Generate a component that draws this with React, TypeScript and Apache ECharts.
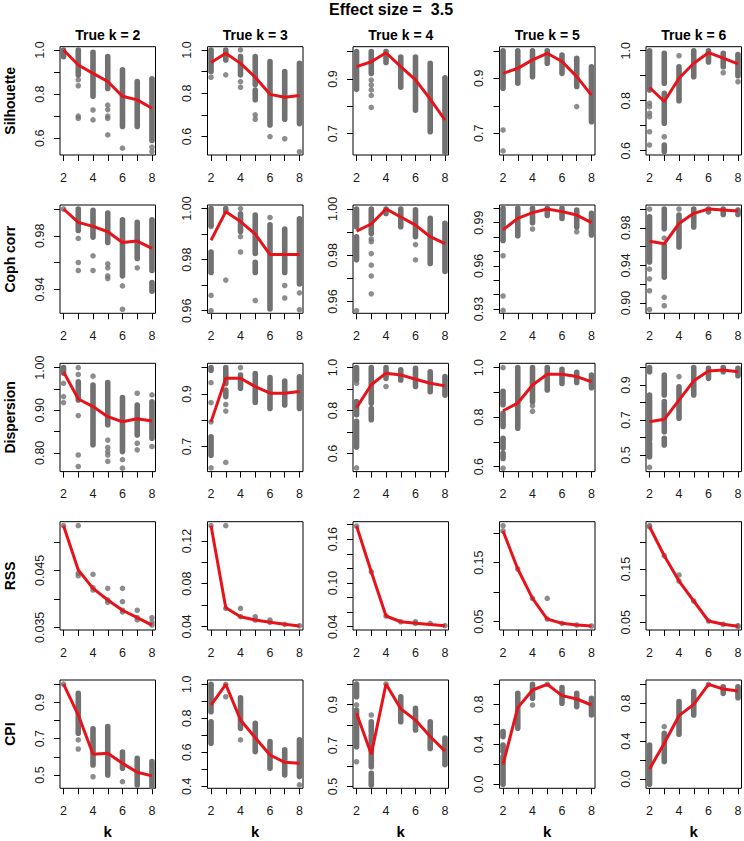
import React, { useEffect, useRef } from "react";
import * as echarts from "echarts";

// ---------------- data ----------------
const kValues = [2, 3, 4, 5, 6, 7, 8];
const trueKTitles = ["True k = 2", "True k = 3", "True k = 4", "True k = 5", "True k = 6"];
const metricNames = ["Silhouette", "Coph corr", "Dispersion", "RSS", "CPI"];
const xTickValues = [2, 3, 4, 5, 6, 7, 8];
const xLabelValues = [2, 4, 6, 8];
const mainTitle = "Effect size =  3.5";
const xAxisTitle = "k";

// Silhouette
const silhouetteRanges = [[0.524, 1.015], [0.515, 1.015], [0.622, 1.018], [0.621, 1.015], [0.583, 1.016]];
const silhouetteTicks = [[0.6, 0.7, 0.8, 0.9, 1.0], [0.6, 0.7, 0.8, 0.9, 1.0], [0.7, 0.8, 0.9, 1.0], [0.7, 0.8, 0.9, 1.0], [0.6, 0.7, 0.8, 0.9, 1.0]];
const silhouetteLabels = [["0.6", "0.8", "1.0"], ["0.6", "0.8", "1.0"], ["0.7", "0.9"], ["0.7", "0.9"], ["0.6", "0.8", "1.0"]];
const silhouetteMeans = [
  [1.0, 0.932, 0.894, 0.857, 0.79, 0.774, 0.736],
  [0.942, 0.985, 0.938, 0.874, 0.795, 0.782, 0.79],
  [0.945, 0.963, 0.996, 0.945, 0.897, 0.826, 0.75],
  [0.918, 0.936, 0.967, 0.991, 0.961, 0.906, 0.839],
  [0.853, 0.797, 0.89, 0.95, 0.992, 0.97, 0.947],
];
const silhouetteStrips = [
  [[2, 0.97, 1.0], [3, 0.887, 1.0], [4, 0.79, 0.99], [5, 0.826, 0.97], [6, 0.653, 0.91], [7, 0.653, 0.857], [8, 0.59, 0.87]],
  [[2, 0.9, 1.0], [3, 0.954, 1.0], [4, 0.885, 0.97], [5, 0.84, 0.97], [5, 0.77, 0.815], [6, 0.654, 0.946], [7, 0.68, 0.9], [8, 0.66, 0.938]],
  [[2, 0.862, 1.0], [3, 0.92, 1.0], [4, 0.96, 1.0], [5, 0.87, 0.98], [6, 0.786, 0.98], [7, 0.707, 0.957], [8, 0.63, 0.904]],
  [[2, 0.864, 1.0], [3, 0.882, 1.0], [4, 0.906, 1.0], [5, 0.955, 1.0], [6, 0.918, 0.985], [7, 0.87, 0.973], [8, 0.742, 0.942]],
  [[2, 0.843, 1.0], [3, 0.87, 0.99], [3, 0.71, 0.83], [3, 0.597, 0.623], [4, 0.8, 0.936], [5, 0.896, 1.0], [6, 0.955, 1.0], [7, 0.936, 0.99], [8, 0.9, 0.985]],
];
const silhouetteDots = [
  [[3, 0.865], [3, 0.838], [3, 0.7], [3, 0.69], [4, 0.728], [4, 0.683], [5, 0.75], [5, 0.73], [5, 0.7], [5, 0.69], [5, 0.615], [6, 0.555], [8, 0.56], [8, 0.54]],
  [[2, 0.874], [3, 0.885], [4, 1.0], [4, 0.854], [4, 0.828], [5, 0.7], [5, 0.68], [6, 0.6], [7, 0.59], [8, 0.53]],
  [[3, 0.896], [3, 0.878], [3, 0.86], [3, 0.84], [3, 0.796]],
  [[2, 0.712], [2, 0.636], [7, 0.797]],
  [[2, 0.79], [2, 0.776], [2, 0.75], [2, 0.736], [2, 0.676], [2, 0.623], [3, 0.656], [4, 0.98], [7, 0.912], [8, 0.876]],
];

// Coph corr
const cophRanges = [[0.922, 1.003], [0.959, 1.0014], [0.9549, 1.0017], [0.927, 1.0023], [0.889, 1.0043]];
const cophTicks = [[0.94, 0.96, 0.98, 1.0], [0.96, 0.97, 0.98, 0.99, 1.0], [0.96, 0.97, 0.98, 0.99, 1.0], [0.93, 0.94, 0.95, 0.96, 0.97, 0.98, 0.99, 1.0], [0.9, 0.92, 0.94, 0.96, 0.98, 1.0]];
const cophLabels = [["0.94", "0.98"], ["0.96", "0.98", "1.00"], ["0.96", "0.98", "1.00"], ["0.93", "0.96", "0.99"], ["0.90", "0.94", "0.98"]];
const cophMeans = [
  [1.0, 0.99, 0.987, 0.983, 0.975, 0.976, 0.9705],
  [0.9876, 0.9988, 0.9949, 0.99, 0.982, 0.982, 0.982],
  [0.9904, 0.9935, 1.0, 0.9965, 0.993, 0.988, 0.985],
  [0.985, 0.993, 0.997, 0.9995, 0.9977, 0.9953, 0.99],
  [0.9657, 0.963, 0.9846, 0.9954, 1.0, 0.999, 0.998],
];
const cophStrips = [
  [[3, 0.984, 1.0], [4, 0.979, 0.999], [5, 0.975, 0.997], [6, 0.95, 0.992], [7, 0.963, 0.99], [8, 0.954, 0.992], [8, 0.9385, 0.945]],
  [[2, 0.9935, 1.0], [2, 0.975, 0.983], [3, 0.999, 1.0], [4, 0.991, 0.998], [5, 0.9824, 0.9975], [5, 0.975, 0.979], [6, 0.9607, 0.9936], [7, 0.975, 0.992], [8, 0.9705, 0.996]],
  [[2, 0.9923, 1.0], [2, 0.978, 0.988], [3, 0.9894, 1.0], [4, 0.998, 1.0], [5, 0.9923, 1.0], [6, 0.988, 0.9996], [7, 0.9764, 0.996], [8, 0.973, 0.9938]],
  [[2, 0.9777, 1.0], [3, 0.981, 1.0], [4, 0.99, 1.0], [5, 0.995, 1.0], [6, 0.993, 1.0], [7, 0.987, 0.9988], [8, 0.9814, 0.9965]],
  [[2, 0.9436, 0.9918], [3, 0.979, 1.0], [3, 0.9275, 0.9614], [4, 0.9596, 0.9936], [5, 0.981, 1.0], [6, 0.997, 1.0], [7, 0.9943, 1.0], [8, 0.9943, 0.999]],
];
const cophDots = [
  [[2, 1.0], [3, 0.978], [3, 0.96], [3, 0.954], [4, 0.965], [4, 0.954], [5, 0.959], [5, 0.956], [5, 0.95], [5, 0.948], [6, 0.9425], [6, 0.925], [7, 0.956]],
  [[2, 0.993], [2, 0.966], [2, 0.96], [3, 0.972], [4, 1.0], [4, 0.989], [4, 0.983], [5, 0.964], [6, 0.9965], [7, 0.9699], [7, 0.965], [8, 0.967], [8, 0.9604]],
  [[2, 0.956], [3, 0.987], [3, 0.9858], [3, 0.9807], [3, 0.9757], [3, 0.971], [3, 0.9633], [6, 0.9846], [6, 0.978]],
  [[2, 0.967], [2, 0.939], [2, 0.929], [4, 0.9856], [7, 0.9837]],
  [[2, 1.0], [2, 0.936], [2, 0.9257], [2, 0.913], [2, 0.893], [3, 0.969], [3, 0.906], [3, 0.897], [4, 1.0]],
];

// Dispersion
const dispersionRanges = [[0.756, 1.0102], [0.605, 1.0165], [0.516, 1.02], [0.58, 1.0176], [0.405, 1.024]];
const dispersionTicks = [[0.8, 0.85, 0.9, 0.95, 1.0], [0.7, 0.8, 0.9, 1.0], [0.6, 0.7, 0.8, 0.9, 1.0], [0.6, 0.7, 0.8, 0.9, 1.0], [0.5, 0.6, 0.7, 0.8, 0.9, 1.0]];
const dispersionLabels = [["0.80", "0.90", "1.00"], ["0.7", "0.9"], ["0.6", "0.8", "1.0"], ["0.6", "0.8", "1.0"], ["0.5", "0.7", "0.9"]];
const dispersionMeans = [
  [0.99, 0.9265, 0.9086, 0.885, 0.873, 0.88, 0.875],
  [0.794, 0.9595, 0.9595, 0.928, 0.903, 0.903, 0.909],
  [0.814, 0.92, 0.974, 0.966, 0.946, 0.927, 0.915],
  [0.826, 0.857, 0.93, 0.973, 0.973, 0.964, 0.943],
  [0.69, 0.704, 0.814, 0.924, 0.98, 0.986, 0.976],
];
const dispersionStrips = [
  [[2, 0.987, 1.0], [3, 0.924, 0.967], [4, 0.819, 0.959], [5, 0.866, 0.965], [6, 0.803, 0.93], [7, 0.842, 0.912], [8, 0.834, 0.92]],
  [[2, 0.99, 1.0], [2, 0.667, 0.737], [3, 0.94, 1.0], [3, 0.89, 0.915], [4, 0.9215, 0.972], [5, 0.8677, 0.978], [6, 0.845, 0.962], [7, 0.858, 0.949], [8, 0.845, 0.965]],
  [[2, 0.942, 1.0], [2, 0.78, 0.842], [2, 0.63, 0.75], [3, 0.834, 1.0], [3, 0.757, 0.81], [4, 0.95, 1.0], [5, 0.942, 0.99], [6, 0.912, 0.997], [7, 0.888, 0.98], [8, 0.872, 0.958]],
  [[2, 0.85, 0.904], [2, 0.762, 0.816], [2, 0.674, 0.715], [2, 0.633, 0.654], [3, 0.755, 1.0], [4, 0.862, 1.0], [5, 0.91, 1.0], [6, 0.936, 0.993], [7, 0.94, 0.981], [8, 0.919, 0.97]],
  [[2, 0.976, 1.0], [2, 0.586, 0.843], [2, 0.49, 0.567], [3, 0.843, 0.957], [3, 0.633, 0.805], [3, 0.557, 0.595], [4, 0.71, 0.89], [5, 0.843, 1.0], [6, 0.938, 0.995], [7, 0.976, 1.0], [8, 0.953, 0.995]],
];
const dispersionDots = [
  [[2, 0.963], [2, 0.932], [2, 0.918], [3, 1.0], [3, 0.984], [3, 0.8875], [3, 0.795], [3, 0.768], [4, 0.98], [5, 0.83], [5, 0.8125], [5, 0.803], [5, 0.795], [5, 0.78], [6, 0.784], [6, 0.764], [7, 0.94], [7, 0.8226], [7, 0.807], [8, 0.936], [8, 0.815]],
  [[2, 0.943], [2, 0.867], [2, 0.794], [2, 0.619], [3, 0.86], [3, 0.835], [3, 0.64], [4, 1.0]],
  [[2, 0.927], [2, 0.533], [4, 0.912]],
  [[2, 1.0], [2, 0.5935], [4, 0.846], [4, 0.824]],
  [[2, 0.429], [4, 0.948]],
];

// RSS
const rssRanges = [[0.03453, 0.05354], [0.0366, 0.1381], [0.0355, 0.184], [0.0359, 0.2195], [0.0356, 0.2388]];
const rssTicks = [[0.035, 0.04, 0.045, 0.05], [0.04, 0.06, 0.08, 0.1, 0.12], [0.04, 0.06, 0.08, 0.1, 0.12, 0.14, 0.16, 0.18], [0.05, 0.1, 0.15, 0.2], [0.05, 0.1, 0.15, 0.2]];
const rssLabels = [["0.035", "0.045"], ["0.04", "0.08", "0.12"], ["0.04", "0.10", "0.16"], ["0.05", "0.15"], ["0.05", "0.15"]];
const rssMeans = [
  [0.05284, 0.04506, 0.04184, 0.0398, 0.038, 0.0367, 0.0354],
  [0.1344, 0.0575, 0.049, 0.046, 0.0438, 0.0419, 0.0403],
  [0.178, 0.1153, 0.0547, 0.0468, 0.0446, 0.0432, 0.0414],
  [0.2037, 0.1393, 0.0895, 0.0545, 0.0472, 0.0444, 0.0427],
  [0.2294, 0.175, 0.1275, 0.09, 0.0525, 0.0463, 0.0425],
];
const rssStrips = [[], [], [], [], []];
const rssDots = [
  [[2, 0.05284], [3, 0.05284], [3, 0.04447], [3, 0.04406], [4, 0.0443], [4, 0.04196], [4, 0.04155], [5, 0.04184], [5, 0.0398], [5, 0.0394], [6, 0.04184], [6, 0.0395], [6, 0.038], [6, 0.0377], [7, 0.038], [7, 0.0367], [7, 0.0363], [8, 0.0367], [8, 0.0359], [8, 0.0354]],
  [[2, 0.1344], [3, 0.1344], [3, 0.0569], [4, 0.0569], [4, 0.0491], [5, 0.049], [5, 0.046], [6, 0.046], [6, 0.0438], [7, 0.0419], [8, 0.0406]],
  [[2, 0.178], [3, 0.1153], [4, 0.0547], [5, 0.0468], [6, 0.0468], [6, 0.0445], [7, 0.0445], [8, 0.0414]],
  [[2, 0.2127], [2, 0.2037], [3, 0.1393], [4, 0.0895], [5, 0.0895], [5, 0.0545], [6, 0.0472], [7, 0.0444], [8, 0.0427]],
  [[2, 0.2313], [2, 0.2294], [3, 0.175], [4, 0.1388], [4, 0.1275], [5, 0.09], [6, 0.0525], [7, 0.0463], [8, 0.0438], [8, 0.0419]],
];

// CPI
const cpiRanges = [[0.4266, 1.023], [0.388, 1.0255], [0.4914, 1.0195], [-0.04, 1.043], [-0.0986, 1.046]];
const cpiTicks = [[0.5, 0.6, 0.7, 0.8, 0.9, 1.0], [0.4, 0.5, 0.6, 0.7, 0.8, 0.9, 1.0], [0.5, 0.6, 0.7, 0.8, 0.9, 1.0], [0, 0.2, 0.4, 0.6, 0.8, 1.0], [0, 0.2, 0.4, 0.6, 0.8, 1.0]];
const cpiLabels = [["0.5", "0.7", "0.9"], ["0.4", "0.6", "0.8", "1.0"], ["0.5", "0.7", "0.9"], ["0.0", "0.4", "0.8"], ["0.0", "0.4", "0.8"]];
const cpiMeans = [
  [1.0, 0.83, 0.614, 0.62, 0.564, 0.515, 0.495],
  [0.878, 1.0, 0.79, 0.686, 0.584, 0.541, 0.535],
  [0.857, 0.657, 1.0, 0.879, 0.824, 0.744, 0.673],
  [0.2, 0.767, 0.943, 1.0, 0.887, 0.853, 0.793],
  [0.106, 0.377, 0.669, 0.789, 1.0, 0.951, 0.93],
];
const cpiStrips = [
  [[3, 0.73, 0.95], [4, 0.555, 0.754], [5, 0.5, 0.767], [6, 0.537, 0.626], [7, 0.445, 0.592], [8, 0.436, 0.574]],
  [[2, 0.839, 1.0], [2, 0.653, 0.78], [4, 0.741, 0.92], [5, 0.604, 0.77], [6, 0.506, 0.663], [7, 0.467, 0.614], [8, 0.457, 0.673]],
  [[2, 0.938, 1.0], [2, 0.816, 0.873], [2, 0.694, 0.8], [3, 0.767, 0.816], [3, 0.597, 0.751], [3, 0.507, 0.564], [5, 0.816, 0.938], [6, 0.776, 0.882], [7, 0.686, 0.816], [8, 0.607, 0.737]],
  [[2, 0.477, 0.527], [2, 0.327, 0.393], [2, 0.0, 0.277], [3, 0.56, 0.91], [4, 0.86, 1.0], [6, 0.81, 0.967], [7, 0.777, 0.91], [8, 0.693, 0.86]],
  [[2, -0.055, 0.359], [3, 0.183, 0.482], [4, 0.472, 0.817], [5, 0.676, 0.923], [7, 0.905, 0.975], [8, 0.859, 0.975]],
];
const cpiDots = [
  [[2, 1.0], [3, 0.693], [3, 0.643], [4, 0.49], [6, 0.463]],
  [[3, 1.0], [3, 0.927], [4, 0.673], [8, 0.408]],
  [[2, 0.898], [2, 0.621], [3, 0.849], [4, 1.0]],
  [[4, 0.793], [5, 1.0]],
  [[3, 0.553], [6, 1.0]],
];

// ---------------- layout / style ----------------
const COL_LEFTS = [60, 207.5, 353, 499.5, 646];
const ROW_TOPS = [46.7, 205, 363.3, 521.7, 680];
const PANEL_W = 95.5;
const PANEL_H = 108.3;
const GREY = "#717171";
const RED = "#e8121a";
const FONT = "'Liberation Sans', Arial, Helvetica, sans-serif";
const DOT = 5.6;

const rows = [
  { ranges: silhouetteRanges, ticks: silhouetteTicks, labels: silhouetteLabels, means: silhouetteMeans, strips: silhouetteStrips, dots: silhouetteDots },
  { ranges: cophRanges, ticks: cophTicks, labels: cophLabels, means: cophMeans, strips: cophStrips, dots: cophDots },
  { ranges: dispersionRanges, ticks: dispersionTicks, labels: dispersionLabels, means: dispersionMeans, strips: dispersionStrips, dots: dispersionDots },
  { ranges: rssRanges, ticks: rssTicks, labels: rssLabels, means: rssMeans, strips: rssStrips, dots: rssDots },
  { ranges: cpiRanges, ticks: cpiTicks, labels: cpiLabels, means: cpiMeans, strips: cpiStrips, dots: cpiDots },
];

function buildOption() {
  const grid: any[] = [];
  const xAxis: any[] = [];
  const yAxis: any[] = [];
  const series: any[] = [];
  const title: any[] = [];

  rows.forEach((row, r) => {
    for (let c = 0; c < 5; c++) {
      const idx = r * 5 + c;
      grid.push({
        left: COL_LEFTS[c], top: ROW_TOPS[r], width: PANEL_W, height: PANEL_H,
        show: true, borderColor: "#000", borderWidth: 1,
        outerBoundsMode: "none",
      });
      const isBottomRow = r === rows.length - 1;
      xAxis.push({
        type: "value", gridIndex: idx, min: 1.76, max: 8.24,
        name: isBottomRow ? xAxisTitle : "",
        nameLocation: "middle", nameGap: 36,
        nameTextStyle: { fontSize: 15, fontWeight: "bold", fontFamily: FONT, color: "#000" },
        axisLine: { show: false, onZero: false },
        splitLine: { show: false },
        axisTick: { show: true, length: 6, customValues: xTickValues, lineStyle: { color: "#000" } },
        axisLabel: { customValues: xLabelValues, margin: 16, fontSize: 12.5, color: "#1a1a1a", fontFamily: FONT },
      });
      const labs = row.labels[c];
      yAxis.push({
        type: "value", gridIndex: idx, min: row.ranges[c][0], max: row.ranges[c][1],
        name: c === 0 ? metricNames[r] : "",
        nameLocation: "middle", nameRotate: 90, nameGap: 43,
        nameTextStyle: { fontSize: 14, fontWeight: "bold", fontFamily: FONT, color: "#000" },
        axisLine: { show: false, onZero: false },
        splitLine: { show: false },
        axisTick: { show: true, length: 6, customValues: row.ticks[c], lineStyle: { color: "#000" } },
        axisLabel: {
          customValues: labs.map(Number), rotate: 90, margin: 14, fontSize: 12.5, color: "#1a1a1a", fontFamily: FONT,
          formatter: (v: number) => labs.find((s) => Math.abs(Number(s) - v) < 1e-9) ?? "",
        },
      });
      series.push({
        type: "custom", xAxisIndex: idx, yAxisIndex: idx, coordinateSystem: "cartesian2d",
        data: row.strips[c], encode: { x: 0, y: [1, 2] },
        renderItem: (params: any, api: any) => {
          const k = api.value(0);
          const pTop = api.coord([k, api.value(2)]);
          const pBot = api.coord([k, api.value(1)]);
          const rad = DOT / 2;
          return {
            type: "rect",
            shape: { x: pTop[0] - rad, y: pTop[1] - rad, width: DOT, height: pBot[1] - pTop[1] + DOT, r: rad },
            style: { fill: GREY },
          };
        },
      });
      series.push({
        type: "scatter", xAxisIndex: idx, yAxisIndex: idx, data: row.dots[c],
        symbolSize: DOT, itemStyle: { color: GREY },
      });
      series.push({
        type: "line", xAxisIndex: idx, yAxisIndex: idx,
        data: kValues.map((k, i) => [k, row.means[c][i]]),
        showSymbol: false, lineStyle: { color: RED, width: 3 },
      });
    }
  });

  title.push({
    text: mainTitle, left: 391, top: 1, textAlign: "center", padding: 0,
    textStyle: { fontSize: 16, fontWeight: "bold", fontFamily: FONT, color: "#000" },
  });
  for (let c = 0; c < 5; c++) {
    title.push({
      text: trueKTitles[c], left: COL_LEFTS[c] + PANEL_W / 2, top: 28, textAlign: "center", padding: 0,
      textStyle: { fontSize: 14, fontWeight: "bold", fontFamily: FONT, color: "#000" },
    });
  }

  return { animation: false, backgroundColor: "#fff", title, grid, xAxis, yAxis, series };
}

export default function App() {
  const ref = useRef<HTMLDivElement>(null);
  useEffect(() => {
    if (!ref.current) return;
    const chart = echarts.init(ref.current, undefined, { renderer: "svg" });
    chart.setOption(buildOption() as any);
    return () => chart.dispose();
  }, []);
  return (
    <div
      ref={ref}
      style={{ position: "absolute", left: 0, top: 0, width: 744, height: 841, background: "#fff" }}
    />
  );
}
